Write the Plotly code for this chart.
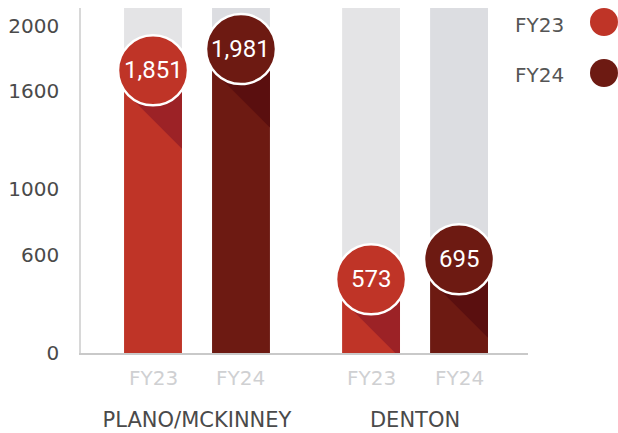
import math
import plotly.graph_objects as go

# ---- data -------------------------------------------------------------
GROUPS = ["PLANO/MCKINNEY", "DENTON"]
SERIES = ["FY23", "FY24"]
FY23 = [1851, 573]
FY24 = [1981, 695]
Y_TICKS = [0, 600, 1000, 1600, 2000]
Y_MAX = 2110  # top of the grey tracks / axis range

# ---- styling ----------------------------------------------------------
BAR_COLORS = {"FY23": "#bf3427", "FY24": "#6d1a12"}
SHADOW_COLORS = {"FY23": "#9c2226", "FY24": "#5a0f0f"}
TRACK_COLORS = {"FY23": "#e4e4e6", "FY24": "#dcdde1"}
FONT = "DejaVu Sans"
NUM_FONT = "Roboto"

W, H = 618, 433
ML, MR, MT, MB = 81, 90, 8, 80
PW, PH = W - ML - MR, H - MT - MB
X_RANGE = [-0.532, 1.518]
BARGAP, GROUPGAP = 0.193, 0.342

PX_PER_X = PW / (X_RANGE[1] - X_RANGE[0])
PX_PER_Y = PH / Y_MAX
R = 35          # badge radius (px)
BADGE_DROP = 20  # badge centre sits this many px below the bar top
SLOT = (1 - BARGAP) / len(SERIES)
HALF_W = SLOT * (1 - GROUPGAP) / 2 * PX_PER_X  # half bar width in px

values = {"FY23": FY23, "FY24": FY24}

fig = go.Figure()

# grey tracks behind each bar
for s in SERIES:
    fig.add_bar(x=GROUPS, y=[Y_MAX] * len(GROUPS), offsetgroup=s,
                marker=dict(color=TRACK_COLORS[s], line=dict(width=0)),
                hoverinfo="skip", showlegend=False)
# value bars
for s in SERIES:
    fig.add_bar(x=GROUPS, y=values[s], offsetgroup=s, name=s,
                marker=dict(color=BAR_COLORS[s], line=dict(width=0)),
                hoverinfo="skip", showlegend=False)


def bar_x(gi, si):
    return gi + (si - (len(SERIES) - 1) / 2) * SLOT


def to_data(cx, v, dx, dy):
    """Pixel offsets (dx right, dy down) from a badge centre -> data coords."""
    return cx + dx / PX_PER_X, v - (BADGE_DROP + dy) / PX_PER_Y


shapes, annotations = [], []
a = R / math.sqrt(2)
for si, s in enumerate(SERIES):
    for gi, v in enumerate(values[s]):
        cx = bar_x(gi, si)
        base = v * PX_PER_Y - BADGE_DROP  # baseline, px below badge centre
        # long 45-degree shadow of the badge, kept inside the bar
        pts = [(-a, a)]
        if HALF_W + 2 * a > base:
            pts += [(base - 2 * a, base), (HALF_W, base)]
        else:
            pts += [(HALF_W, HALF_W + 2 * a)]
        pts += [(HALF_W, max(HALF_W - 2 * a, -BADGE_DROP)), (a, -a)]
        dpts = [to_data(cx, v, dx, dy) for dx, dy in pts]
        path = "M " + " L ".join(f"{x},{y}" for x, y in dpts) + " Z"
        shapes.append(dict(type="path", xref="x", yref="y", path=path,
                           fillcolor=SHADOW_COLORS[s], line=dict(width=0),
                           layer="above"))
        # round badge
        shapes.append(dict(type="circle", xref="x", yref="y",
                           xsizemode="pixel", ysizemode="pixel",
                           xanchor=cx, yanchor=v,
                           x0=-R, x1=R, y0=-BADGE_DROP - R, y1=-BADGE_DROP + R,
                           fillcolor=BAR_COLORS[s],
                           line=dict(color="white", width=2.5), layer="above"))
        annotations.append(dict(x=cx, y=v, xref="x", yref="y", yshift=-BADGE_DROP,
                                text=f"{v:,}", showarrow=False,
                                xanchor="center", yanchor="middle",
                                font=dict(family=NUM_FONT, size=24, color="white",
                                          weight=400)))
        # series label under each bar
        annotations.append(dict(x=cx, y=0, xref="x", yref="y", yshift=-25,
                                text=s, showarrow=False,
                                xanchor="center", yanchor="middle",
                                font=dict(family=FONT, size=20, color="#cfd0d2")))


# legend: label on the left, dot on the right
def px_x(px):
    return (px - ML) / PW


def px_y(py):
    return (MT + PH - py) / PH


for s, ty, cy in zip(SERIES, [25, 75], [22, 73]):
    annotations.append(dict(x=px_x(566), y=px_y(ty), xref="paper", yref="paper",
                            text=s, showarrow=False, xanchor="right",
                            yanchor="middle",
                            font=dict(family=FONT, size=20, color="#555555")))
    shapes.append(dict(type="circle", xref="paper", yref="paper",
                       xsizemode="pixel", ysizemode="pixel",
                       xanchor=px_x(604), yanchor=px_y(cy),
                       x0=-14, x1=14, y0=-14, y1=14,
                       fillcolor=BAR_COLORS[s], line=dict(width=0)))

fig.update_layout(
    width=W, height=H,
    margin=dict(l=ML, r=MR, t=MT, b=MB, pad=0),
    paper_bgcolor="white", plot_bgcolor="white",
    barmode="group", bargap=BARGAP, bargroupgap=GROUPGAP,
    shapes=shapes, annotations=annotations,
    showlegend=False,
    xaxis=dict(range=X_RANGE, showgrid=False, zeroline=False, automargin=False,
               showline=True, linecolor="#c9c9c9", linewidth=1.5,
               ticks="", ticklabelstandoff=47,
               tickfont=dict(family=FONT, size=21, color="#4a4a4a")),
    yaxis=dict(range=[0, Y_MAX], showgrid=False, zeroline=False, automargin=False,
               showline=True, linecolor="#d8d8d8", linewidth=1.5,
               tickvals=Y_TICKS, ticktext=[str(t) for t in Y_TICKS],
               ticks="", ticklabelstandoff=16,
               tickfont=dict(family=FONT, size=20, color="#4a4a4a")),
)

fig.write_html("out.html")
